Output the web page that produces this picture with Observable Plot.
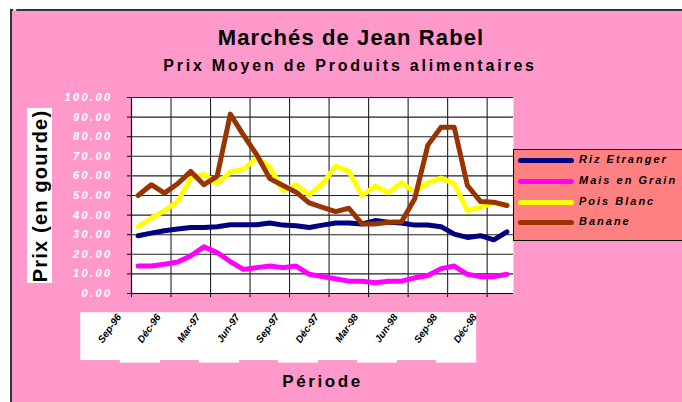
<!DOCTYPE html>
<html>
<head>
<meta charset="utf-8">
<script src="https://cdn.jsdelivr.net/npm/d3@7"></script>
<script src="https://cdn.jsdelivr.net/npm/@observablehq/plot@0.6"></script>
<style>
  html, body { margin: 0; padding: 0; background: #fff; }
  #wrap { position: relative; width: 682px; height: 402px; overflow: hidden; font-family: "Liberation Sans", Arial, sans-serif; }
  #panel { position: absolute; left: 10px; top: 9px; width: 680px; height: 400px; background: #ff99cc; border-left: 2px solid #333; border-top: 2px solid #333; }
  #chart { position: absolute; left: 0; top: 0; }
  .t { position: absolute; font-weight: bold; color: #000; white-space: nowrap; }
  #title { left: 0; width: 702px; text-align: center; top: 25px; font-size: 22px; letter-spacing: 1.1px; }
  #subtitle { left: 0; width: 700px; text-align: center; top: 57px; font-size: 16px; letter-spacing: 2.8px; }
  #xtitle { left: 0; width: 645px; text-align: center; top: 372px; font-size: 17px; letter-spacing: 2.6px; }
  #ytitle { left: 27px; top: 108px; width: 25px; height: 175px; background: #fff; }
  #ytitle span { position: absolute; left: 50%; top: 50%; transform: translate(-50%, -50%) rotate(-90deg); font-size: 20px; letter-spacing: 1.2px; font-weight: bold; white-space: nowrap; }
  #legend { position: absolute; left: 513px; top: 149px; width: 175px; height: 90px; background: #ff8080; border: 1px solid #000; }
  .li { position: absolute; left: 4px; height: 20px; width: 170px; }
  .li .sw { position: absolute; left: 0; top: 7px; width: 56px; height: 5px; border-radius: 3px; }
  .li .lb { position: absolute; left: 61px; top: 2px; font-size: 11px; font-weight: bold; font-style: italic; letter-spacing: 2px; }
  g[aria-label="y-axis tick label"] text { letter-spacing: 2.4px; }
</style>
</head>
<body>
<div id="wrap">
  <div id="panel"></div>
  <div id="chart"></div>
  <div class="t" id="title">Marchés de Jean Rabel</div>
  <div class="t" id="subtitle">Prix Moyen de Produits alimentaires</div>
  <div class="t" id="xtitle">Période</div>
  <div class="t" id="ytitle"><span>Prix (en gourde)</span></div>
  <div id="legend"></div>
</div>
<script>
// Series names and colours
const seriesNames = ["Riz Etranger", "Mais en Grain", "Pois Blanc", "Banane"];
const seriesColors = ["#000080", "#ff00ff", "#ffff00", "#993300"];

// Monthly values (29 months)
const riz = [29.5,30.8,32,32.9,33.7,33.7,34.1,35.1,35.1,35.1,36,34.9,34.6,33.7,34.9,36,36,35.5,37.2,36.3,36,34.9,34.9,34.1,30.3,28.6,29.5,27.4,31.5];
const mais = [14,14,14.9,16.1,19.2,23.8,20.9,16.3,12.3,13.2,14,13.2,14,9.8,8.6,7.5,6.3,6.3,5.5,6.3,6.3,8,9.2,12.7,14,9.8,8.6,8.6,9.8];
const pois = [34.1,38.4,42.3,46.9,58.6,60.8,56,62,63.4,69.2,64.6,52.6,55.5,50.3,56,64.9,62.3,50,54.8,51.4,56.5,51.7,56.5,58.9,56,42.3,44,46.2,45];
const banane = [50,55.5,51.2,56,62.3,55.5,59.8,91.5,80.8,70.9,58.6,55.1,51.7,46.2,44,41.8,43.5,35.5,35.5,36.3,36.6,48.3,75.7,84.8,84.8,55.1,46.9,46.6,44.9];

// Tick labels (one every 3 months)
const tickLabels = ["Sep-96","Déc-96","Mar-97","Jun-97","Sep-97","Déc-97","Mar-98","Jun-98","Sep-98","Déc-98"];
const yTicks = [0,10,20,30,40,50,60,70,80,90,100];

const allSeries = [riz, mais, pois, banane];
const data = [];
allSeries.forEach((arr, s) => arr.forEach((v, i) => data.push({i, v, s: seriesNames[s]})));

const n = riz.length;
const boundaries = tickLabels.map((_, k) => k * 3 - 0.5);
const labelData = tickLabels.map((t, k) => ({t, k}));

const chart = Plot.plot({
  width: 682,
  height: 402,
  marginLeft: 131,
  marginRight: 169,
  marginTop: 97,
  marginBottom: 109,
  style: "background: transparent; overflow: visible; font-family: 'Liberation Sans', Arial, sans-serif;",
  x: {type: "linear", domain: [-0.5, n - 0.5], axis: null},
  y: {domain: [0, 100], axis: null},
  color: {domain: seriesNames, range: seriesColors},
  marks: [
    Plot.frame({fill: "white", stroke: null}),
    // label background boxes
    Plot.rect(labelData, {x1: d => d.k * 3 - 4.35, x2: d => d.k * 3 - 1.3, y1: -9.8, y2: d => d.k % 2 ? -35.5 : -34.2, fill: "white"}),
    Plot.ruleY(yTicks.filter(d => d > 0), {stroke: "#222", strokeWidth: 1.1}),
    Plot.ruleX(boundaries.slice(1), {stroke: "#222", strokeWidth: 1.1}),
    Plot.ruleX(boundaries, {y1: 0, y2: -2.1, stroke: "#000"}),
    Plot.ruleX([-0.5], {stroke: "#000", strokeWidth: 1.2}),
    Plot.ruleY([0], {stroke: "#000", strokeWidth: 1.2}),
    Plot.axisY({ticks: yTicks, tickFormat: d => d.toFixed(2), tickSize: 4, tickPadding: 15, stroke: "#000", fill: "white", fontSize: 11, fontWeight: "bold", fontStyle: "italic"}),
    Plot.line(data, {x: "i", y: "v", z: "s", stroke: "s", strokeWidth: 5, strokeLinejoin: "round", strokeLinecap: "round"}),
    Plot.text(labelData, {x: d => d.k * 3 - 1.45, y: -11, text: "t", textAnchor: "end", rotate: -55, fontSize: 10, fontWeight: "bold", fontStyle: "italic", fill: "#000"})
  ]
});
document.getElementById("chart").appendChild(chart);

// HTML legend
const legend = document.getElementById("legend");
seriesNames.forEach((name, s) => {
  const row = document.createElement("div");
  row.className = "li";
  row.style.top = (1 + s * 20.8) + "px";
  row.innerHTML = `<div class="sw" style="background:${seriesColors[s]}"></div><div class="lb">${name}</div>`;
  legend.appendChild(row);
});
</script>
</body>
</html>
